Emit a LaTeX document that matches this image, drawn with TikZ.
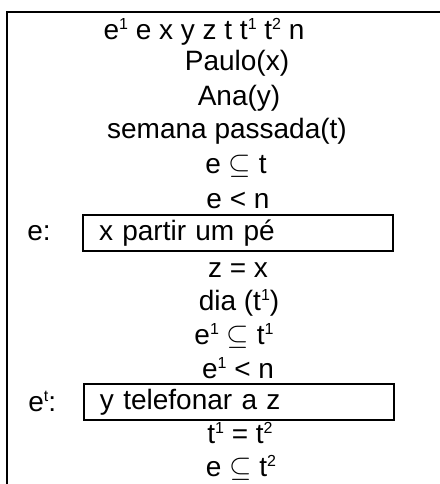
\documentclass[tikz,border=0pt]{standalone}
\usepackage{fontspec}
\setmainfont{Liberation Sans}
\usepackage{tikz}
\usetikzlibrary{positioning}
\newcommand{\sk}[1]{\smash{\raisebox{5pt}{\fontsize{8}{8}\selectfont #1}}}

\begin{document}
\begin{tikzpicture}[x=0.5pt,y=-0.5pt,font=\fontsize{14}{16}\selectfont,
 ln/.style={inner sep=0pt},
 drs/.style={draw,line width=1pt,minimum width=155pt,minimum height=18pt,text width=139pt,inner xsep=8pt,inner ysep=0pt,align=left}]
 \useasboundingbox (0,0) rectangle (440,484);
 \coordinate (tr) at (440,12);
 \coordinate (tl) at (7,12);
 \coordinate (bl) at (7,484);
 \draw[line width=1pt](tr)--(tl)--(bl);
 \node[ln](univ) at (204,33){e\sk{1} e x y z t t\sk{1} t\sk{2} n};
 \node[ln](paulo) at (237,63){Paulo(x)};
 \node[ln](ana) at (239,98){Ana(y)};
 \node[ln](sem) at (227,131){semana passada(t)};
 \node[ln](eint) at (236,166){e $\subseteq$ t};
 \node[ln](eprec) at (238,200){e < n};
 \node[drs](ebox) at (238,233){x partir um pé};
 \node[ln,anchor=west](elab) at (27,233){e:};
 \node[ln](zx) at (238,270){z = x};
 \node[ln](dia) at (239,303){dia (t\sk{1})};
 \node[ln](e1int) at (234,337){e\sk{1} $\subseteq$ t\sk{1}};
 \node[ln](e1prec) at (238,370){e\sk{1} < n};
 \node[drs](e1box) at (239,402){y telefonar a z};
 \node[ln,anchor=west](e1lab) at (28,404){e\sk{t}:};
 \node[ln](tt) at (240,435){t\sk{1} = t\sk{2}};
 \node[ln](eint2) at (241,469){e $\subseteq$ t\sk{2}};
\end{tikzpicture}
\end{document}
